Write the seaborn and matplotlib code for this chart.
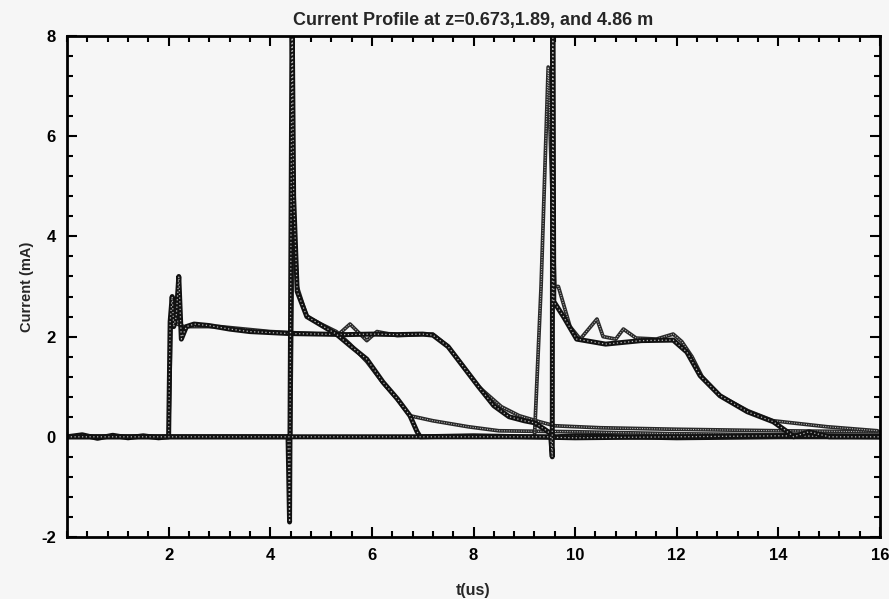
import pandas as pd
import seaborn as sns
import matplotlib.pyplot as plt
from matplotlib.ticker import MultipleLocator

# pulse seen at z=0.673 m (arrives ~2 us)
t_a_meas = [0.0, 0.3, 0.6, 0.9, 1.2, 1.5, 1.8, 2.0, 2.03, 2.07, 2.1, 2.15, 2.2, 2.25, 2.35, 2.5,
            2.8, 3.2, 3.6, 4.0, 4.4, 5.0, 5.5, 6.0, 6.5, 7.0, 7.2, 7.5, 7.8, 8.1, 8.4, 8.7,
            9.0, 9.2, 9.4, 9.6, 10.0, 12.0, 14.0, 16.0]
i_a_meas = [0.0, 0.04, -0.03, 0.03, -0.02, 0.02, -0.02, 0.0, 2.3, 2.8, 2.2, 2.4, 3.2, 1.95, 2.2, 2.25,
            2.22, 2.15, 2.1, 2.08, 2.06, 2.05, 2.04, 2.05, 2.04, 2.05, 2.03, 1.8, 1.4, 1.0, 0.62, 0.4,
            0.32, 0.28, 0.15, 0.0, 0.02, -0.02, 0.0, 0.0]
t_a_sim = [0.0, 2.0, 2.05, 2.3, 3.0, 4.0, 5.0, 5.35, 5.57, 5.9, 6.1, 6.5, 7.2, 7.5, 8.1, 8.55,
           8.9, 9.3, 9.6, 10.5, 12.0, 14.0, 16.0]
i_a_sim = [0.0, 0.0, 2.3, 2.2, 2.2, 2.1, 2.05, 2.05, 2.25, 1.92, 2.1, 2.02, 2.05, 1.8, 1.0, 0.6,
           0.42, 0.3, 0.22, 0.18, 0.15, 0.12, 0.1]

# pulse seen at z=1.89 m (arrives ~4.4 us)
t_b_meas = [0.0, 4.35, 4.38, 4.43, 4.46, 4.53, 4.72, 5.05, 5.3, 5.57, 5.9, 6.22, 6.5, 6.75,
            6.89, 6.95, 8.0, 10.0, 12.0, 14.0, 16.0]
i_b_meas = [0.0, 0.0, -1.7, 8.6, 4.8, 2.9, 2.4, 2.2, 2.05, 1.82, 1.55, 1.09, 0.76, 0.42,
            0.1, 0.0, 0.02, -0.02, 0.0, 0.02, 0.0]
t_b_sim = [0.0, 4.4, 4.45, 4.53, 4.72, 5.0, 5.3, 5.57, 5.9, 6.2, 6.5, 6.75, 7.2, 7.9, 8.5,
           10.0, 12.0, 14.0, 16.0]
i_b_sim = [0.0, 0.0, 4.8, 3.0, 2.4, 2.25, 2.1, 1.85, 1.5, 1.1, 0.75, 0.42, 0.32, 0.2, 0.12,
           0.1, 0.06, 0.04, 0.03]

# pulse seen at z=4.86 m (arrives ~9.5 us)
t_c_meas = [0.0, 9.52, 9.55, 9.56, 9.58, 9.77, 10.03, 10.6, 11.3, 11.93, 12.2, 12.46, 12.85,
            13.39, 13.9, 14.23, 14.3, 14.6, 15.0, 16.0]
i_c_meas = [0.0, 0.0, -0.4, 8.6, 2.7, 2.4, 1.95, 1.85, 1.92, 1.93, 1.69, 1.22, 0.82,
            0.5, 0.3, 0.06, 0.0, 0.1, 0.0, 0.0]
t_c_sim = [0.0, 9.2, 9.33, 9.47, 9.6, 9.67, 9.9, 10.1, 10.43, 10.55, 10.8, 10.95, 11.2, 11.6,
           11.93, 12.1, 12.3, 12.5, 12.85, 13.4, 13.9, 14.96, 15.95]
i_c_sim = [0.0, 0.0, 3.0, 7.38, 3.0, 3.0, 2.2, 1.95, 2.35, 2.0, 1.95, 2.15, 1.97, 1.95,
           2.05, 1.9, 1.6, 1.2, 0.82, 0.52, 0.32, 0.2, 0.12]

traces = [
    ('a_sim', t_a_sim, i_a_sim), ('b_sim', t_b_sim, i_b_sim), ('c_sim', t_c_sim, i_c_sim),
    ('a_meas', t_a_meas, i_a_meas), ('b_meas', t_b_meas, i_b_meas), ('c_meas', t_c_meas, i_c_meas),
]
df = pd.concat([pd.DataFrame({'t': t, 'current': i, 'trace': name}) for name, t, i in traces])

sns.set_style('ticks')
plt.rcParams['font.family'] = ['Liberation Sans', 'DejaVu Sans']
plt.rcParams['font.weight'] = 'bold'
plt.rcParams['axes.unicode_minus'] = False

fig = plt.figure(figsize=(8.89, 5.99), dpi=100, facecolor='#f6f6f6')
ax = fig.add_axes([67 / 889, 1 - 537 / 599, 813 / 889, 501 / 599])
ax.set_facecolor('#f6f6f6')

for name, _, _ in traces:
    sub = df[df['trace'] == name]
    if name.endswith('meas'):
        sns.lineplot(data=sub, x='t', y='current', estimator=None, sort=False,
                     color='#111111', lw=3.6, ax=ax)
        sns.lineplot(data=sub, x='t', y='current', estimator=None, sort=False,
                     color='#b8b8b8', lw=0.9, linestyle=(0, (1, 2)), ax=ax)
    else:
        sns.lineplot(data=sub, x='t', y='current', estimator=None, sort=False,
                     color='#2a2a2a', lw=2.7, ax=ax)
        sns.lineplot(data=sub, x='t', y='current', estimator=None, sort=False,
                     color='#cfcfcf', lw=0.7, linestyle=(0, (1, 1.5)), ax=ax)

ax.set_xlim(0, 16)
ax.set_ylim(-2, 8)
ax.xaxis.set_minor_locator(MultipleLocator(0.4))
ax.yaxis.set_major_locator(MultipleLocator(2))
ax.yaxis.set_minor_locator(MultipleLocator(0.4))
ax.set_xticks([2, 4, 6, 8, 10, 12, 14, 16])
ax.set_xticklabels(['2', '4', '6', '8', '10', '12', '14', '16'])
ax.tick_params(which='both', direction='in', top=True, right=True, width=1.5,
               labelsize=12, colors='black')
ax.tick_params(which='major', length=7, pad=8)
ax.tick_params(which='minor', length=4)
for sp in ax.spines.values():
    sp.set_linewidth(2)
    sp.set_color('black')

ax.set_title('Current Profile at z=0.673,1.89, and 4.86 m', fontsize=13,
             fontweight='bold', pad=8)
ax.set_xlabel('t(us)', fontsize=11.5, fontweight='bold', labelpad=14)
ax.set_ylabel('Current (mA)', fontsize=10.5, fontweight='bold', labelpad=5)

fig.savefig('out.png', dpi=100, facecolor=fig.get_facecolor())
